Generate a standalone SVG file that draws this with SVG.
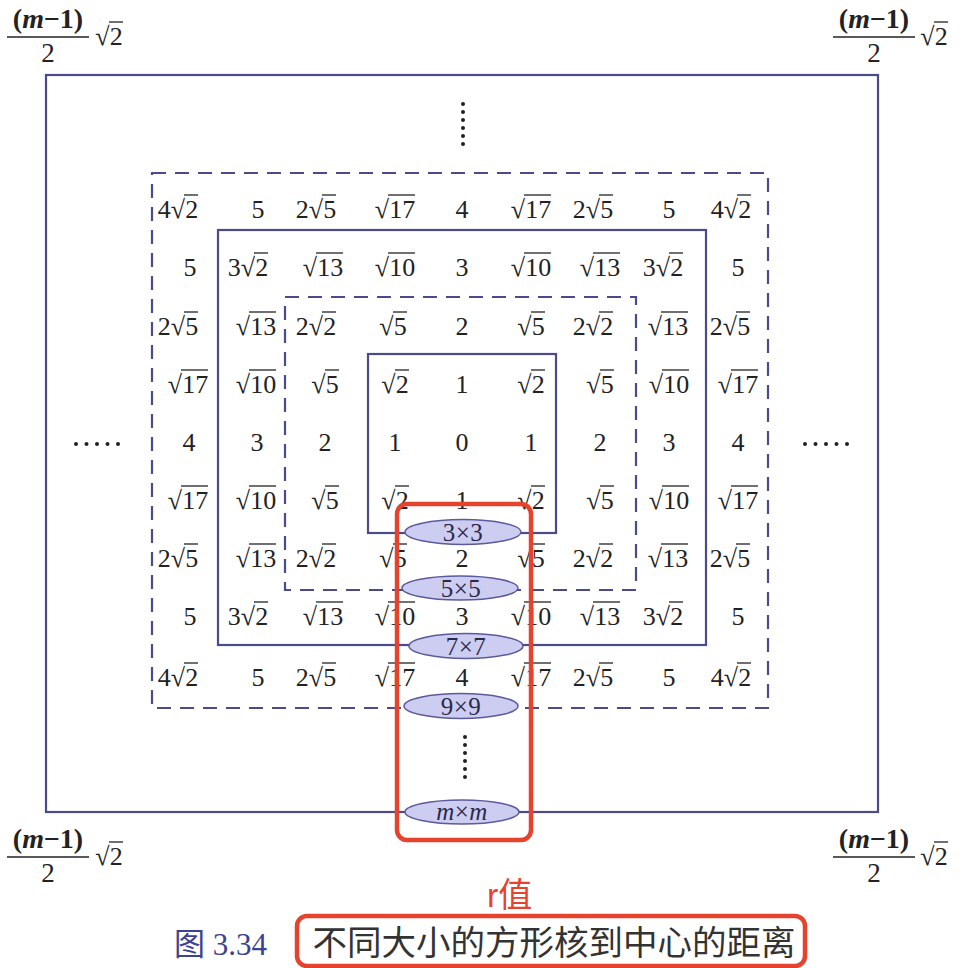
<svg xmlns="http://www.w3.org/2000/svg" width="962" height="968" viewBox="0 0 962 968">
<style>
.fr{fill:none;stroke:#4a4a8c;stroke-width:2.2}
.dash{stroke-dasharray:14 9}
.v{font-family:"Liberation Serif",serif;font-size:26px;fill:#222;text-anchor:middle}
.ov{stroke:#222;stroke-width:1.3}
.el{fill:#cdcdf2;stroke:#5a5a9c;stroke-width:1.5}
.et{font-family:"Liberation Serif",serif;font-size:25px;fill:#2a2a48;text-anchor:middle;letter-spacing:0.5px}
.cn{font-family:"Liberation Serif",serif;font-size:27px;fill:#222;text-anchor:middle}
.cm{font-family:"Liberation Serif",serif;font-size:28px;font-weight:bold;fill:#222;text-anchor:middle}
.dot{fill:#222}
.red{fill:none;stroke:#e5432d;stroke-width:4.5}
</style>
<rect width="962" height="968" fill="#fff"/>
<g id="frames">
<rect class="fr" x="46" y="75" width="832" height="737"/>
<rect class="fr dash" x="152" y="173" width="616" height="535"/>
<rect class="fr" x="218" y="230" width="488" height="415"/>
<rect class="fr dash" x="285" y="297" width="351" height="293"/>
<rect class="fr" x="368" y="354" width="188" height="179"/>
</g>
<g id="corners">
<g id="c-tl">
<text class="cm" x="48" y="28">(<tspan font-style="italic">m</tspan>−1)</text>
<line class="ov" x1="7" y1="37" x2="89" y2="37"/>
<text class="cn" x="48" y="62">2</text>
<text class="v" x="109" y="45">√2</text>
<line class="ov" x1="109" y1="22" x2="123" y2="22"/>
</g>
<g id="c-tr">
<text class="cm" x="874" y="28">(<tspan font-style="italic">m</tspan>−1)</text>
<line class="ov" x1="833" y1="37" x2="915" y2="37"/>
<text class="cn" x="874" y="62">2</text>
<text class="v" x="934" y="45">√2</text>
<line class="ov" x1="934" y1="22" x2="948" y2="22"/>
</g>
<g id="c-bl">
<text class="cm" x="48" y="848">(<tspan font-style="italic">m</tspan>−1)</text>
<line class="ov" x1="7" y1="857" x2="89" y2="857"/>
<text class="cn" x="48" y="882">2</text>
<text class="v" x="109" y="865">√2</text>
<line class="ov" x1="109" y1="842" x2="123" y2="842"/>
</g>
<g id="c-br">
<text class="cm" x="874" y="848">(<tspan font-style="italic">m</tspan>−1)</text>
<line class="ov" x1="833" y1="857" x2="915" y2="857"/>
<text class="cn" x="874" y="882">2</text>
<text class="v" x="934" y="865">√2</text>
<line class="ov" x1="934" y1="842" x2="948" y2="842"/>
</g>
</g>
<g id="dots">
<circle class="dot" cx="463" cy="104" r="2"/><circle class="dot" cx="463" cy="112" r="2"/><circle class="dot" cx="463" cy="120" r="2"/><circle class="dot" cx="463" cy="128" r="2"/><circle class="dot" cx="463" cy="136" r="2"/><circle class="dot" cx="463" cy="144" r="2"/>
<circle class="dot" cx="465" cy="737" r="2"/><circle class="dot" cx="465" cy="745" r="2"/><circle class="dot" cx="465" cy="753" r="2"/><circle class="dot" cx="465" cy="761" r="2"/><circle class="dot" cx="465" cy="769" r="2"/><circle class="dot" cx="465" cy="777" r="2"/>
<circle class="dot" cx="76" cy="444" r="2"/><circle class="dot" cx="86.5" cy="444" r="2"/><circle class="dot" cx="97" cy="444" r="2"/><circle class="dot" cx="107.5" cy="444" r="2"/><circle class="dot" cx="118" cy="444" r="2"/>
<circle class="dot" cx="805" cy="444" r="2"/><circle class="dot" cx="815.5" cy="444" r="2"/><circle class="dot" cx="826" cy="444" r="2"/><circle class="dot" cx="836.5" cy="444" r="2"/><circle class="dot" cx="847" cy="444" r="2"/>
</g>
<g id="values">
<text class="v" x="178" y="218">4√2</text><text class="v" x="258" y="218">5</text><text class="v" x="316" y="218">2√5</text><text class="v" x="395" y="218">√17</text><text class="v" x="462" y="218">4</text><text class="v" x="531" y="218">√17</text><text class="v" x="593" y="218">2√5</text><text class="v" x="669" y="218">5</text><text class="v" x="731" y="218">4√2</text>
<text class="v" x="190" y="276">5</text><text class="v" x="248" y="276">3√2</text><text class="v" x="323" y="276">√13</text><text class="v" x="395" y="276">√10</text><text class="v" x="462" y="276">3</text><text class="v" x="531" y="276">√10</text><text class="v" x="600" y="276">√13</text><text class="v" x="663" y="276">3√2</text><text class="v" x="738" y="276">5</text>
<text class="v" x="178" y="335">2√5</text><text class="v" x="256" y="335">√13</text><text class="v" x="316" y="335">2√2</text><text class="v" x="393" y="335">√5</text><text class="v" x="462" y="335">2</text><text class="v" x="531" y="335">√5</text><text class="v" x="593" y="335">2√2</text><text class="v" x="668" y="335">√13</text><text class="v" x="730" y="335">2√5</text>
<text class="v" x="188" y="393">√17</text><text class="v" x="256" y="393">√10</text><text class="v" x="325" y="393">√5</text><text class="v" x="395" y="393">√2</text><text class="v" x="462" y="393">1</text><text class="v" x="531" y="393">√2</text><text class="v" x="600" y="393">√5</text><text class="v" x="669" y="393">√10</text><text class="v" x="738" y="393">√17</text>
<text class="v" x="189" y="451">4</text><text class="v" x="257" y="451">3</text><text class="v" x="325" y="451">2</text><text class="v" x="395" y="451">1</text><text class="v" x="462" y="451">0</text><text class="v" x="531" y="451">1</text><text class="v" x="600" y="451">2</text><text class="v" x="669" y="451">3</text><text class="v" x="738" y="451">4</text>
<text class="v" x="188" y="509">√17</text><text class="v" x="256" y="509">√10</text><text class="v" x="325" y="509">√5</text><text class="v" x="395" y="509">√2</text><text class="v" x="462" y="509">1</text><text class="v" x="531" y="509">√2</text><text class="v" x="600" y="509">√5</text><text class="v" x="669" y="509">√10</text><text class="v" x="738" y="509">√17</text>
<text class="v" x="178" y="567">2√5</text><text class="v" x="256" y="567">√13</text><text class="v" x="316" y="567">2√2</text><text class="v" x="393" y="567">√5</text><text class="v" x="462" y="567">2</text><text class="v" x="531" y="567">√5</text><text class="v" x="593" y="567">2√2</text><text class="v" x="668" y="567">√13</text><text class="v" x="730" y="567">2√5</text>
<text class="v" x="190" y="625">5</text><text class="v" x="248" y="625">3√2</text><text class="v" x="323" y="625">√13</text><text class="v" x="395" y="625">√10</text><text class="v" x="462" y="625">3</text><text class="v" x="531" y="625">√10</text><text class="v" x="600" y="625">√13</text><text class="v" x="663" y="625">3√2</text><text class="v" x="738" y="625">5</text>
<text class="v" x="178" y="686">4√2</text><text class="v" x="258" y="686">5</text><text class="v" x="316" y="686">2√5</text><text class="v" x="395" y="686">√17</text><text class="v" x="462" y="686">4</text><text class="v" x="531" y="686">√17</text><text class="v" x="593" y="686">2√5</text><text class="v" x="669" y="686">5</text><text class="v" x="731" y="686">4√2</text>
</g>
<g id="overlines" class="ov">
<line x1="184" y1="195" x2="198" y2="195"/><line x1="322" y1="195" x2="336" y2="195"/><line x1="388" y1="195" x2="415" y2="195"/><line x1="524" y1="195" x2="551" y2="195"/><line x1="599" y1="195" x2="613" y2="195"/><line x1="737" y1="195" x2="751" y2="195"/>
<line x1="254" y1="253" x2="268" y2="253"/><line x1="316" y1="253" x2="343" y2="253"/><line x1="388" y1="253" x2="415" y2="253"/><line x1="524" y1="253" x2="551" y2="253"/><line x1="593" y1="253" x2="620" y2="253"/><line x1="669" y1="253" x2="683" y2="253"/>
<line x1="184" y1="312" x2="198" y2="312"/><line x1="249" y1="312" x2="276" y2="312"/><line x1="322" y1="312" x2="336" y2="312"/><line x1="393" y1="312" x2="407" y2="312"/><line x1="531" y1="312" x2="545" y2="312"/><line x1="599" y1="312" x2="613" y2="312"/><line x1="661" y1="312" x2="688" y2="312"/><line x1="736" y1="312" x2="750" y2="312"/>
<line x1="181" y1="370" x2="208" y2="370"/><line x1="249" y1="370" x2="276" y2="370"/><line x1="325" y1="370" x2="339" y2="370"/><line x1="395" y1="370" x2="409" y2="370"/><line x1="531" y1="370" x2="545" y2="370"/><line x1="600" y1="370" x2="614" y2="370"/><line x1="662" y1="370" x2="689" y2="370"/><line x1="731" y1="370" x2="758" y2="370"/>
<line x1="181" y1="486" x2="208" y2="486"/><line x1="249" y1="486" x2="276" y2="486"/><line x1="325" y1="486" x2="339" y2="486"/><line x1="395" y1="486" x2="409" y2="486"/><line x1="531" y1="486" x2="545" y2="486"/><line x1="600" y1="486" x2="614" y2="486"/><line x1="662" y1="486" x2="689" y2="486"/><line x1="731" y1="486" x2="758" y2="486"/>
<line x1="184" y1="544" x2="198" y2="544"/><line x1="249" y1="544" x2="276" y2="544"/><line x1="322" y1="544" x2="336" y2="544"/><line x1="393" y1="544" x2="407" y2="544"/><line x1="531" y1="544" x2="545" y2="544"/><line x1="599" y1="544" x2="613" y2="544"/><line x1="661" y1="544" x2="688" y2="544"/><line x1="736" y1="544" x2="750" y2="544"/>
<line x1="254" y1="602" x2="268" y2="602"/><line x1="316" y1="602" x2="343" y2="602"/><line x1="388" y1="602" x2="415" y2="602"/><line x1="524" y1="602" x2="551" y2="602"/><line x1="593" y1="602" x2="620" y2="602"/><line x1="669" y1="602" x2="683" y2="602"/>
<line x1="184" y1="663" x2="198" y2="663"/><line x1="322" y1="663" x2="336" y2="663"/><line x1="388" y1="663" x2="415" y2="663"/><line x1="524" y1="663" x2="551" y2="663"/><line x1="599" y1="663" x2="613" y2="663"/><line x1="737" y1="663" x2="751" y2="663"/>
</g>
<g id="k3"><ellipse class="el" cx="463" cy="532" rx="58" ry="12.5"/><text class="et" x="463" y="541">3×3</text></g>
<g id="k5"><ellipse class="el" cx="460" cy="588" rx="58" ry="12"/><text class="et" x="461" y="597">5×5</text></g>
<g id="k7"><ellipse class="el" cx="466" cy="646" rx="57" ry="12.5"/><text class="et" x="466" y="655">7×7</text></g>
<g id="k9"><ellipse class="el" cx="461" cy="706" rx="57" ry="12.5"/><text class="et" x="461" y="715">9×9</text></g>
<g id="km"><ellipse class="el" cx="462" cy="812" rx="57" ry="12"/><text class="et" x="462" y="820"><tspan font-style="italic">m</tspan>×<tspan font-style="italic">m</tspan></text></g>
<g id="highlight">
<rect class="red" x="397" y="504" width="134" height="336" rx="10"/>
<text x="487" y="907" font-family="'Liberation Sans','Noto Sans CJK SC',sans-serif" font-size="34" fill="#e5432d">r值</text>
</g>
<g id="caption">
<text x="174" y="955" font-family="'Liberation Serif','Noto Sans CJK SC',serif" font-size="31" fill="#3d4290">图 3.34</text>
<rect class="red" x="297" y="916" width="508" height="50" rx="10"/>
<text x="554" y="955" text-anchor="middle" font-family="'Noto Sans CJK SC',sans-serif" font-size="34.5" fill="#333">不同大小的方形核到中心的距离</text>
</g>
</svg>
